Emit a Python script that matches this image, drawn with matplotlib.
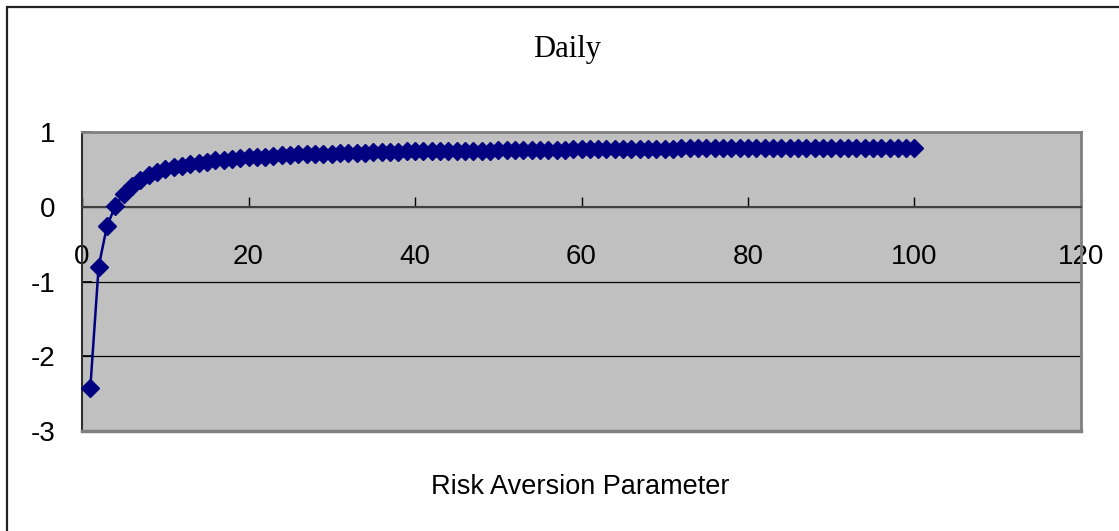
import matplotlib
matplotlib.use("Agg")
import matplotlib.pyplot as plt
from matplotlib.patches import Rectangle

# Risk aversion parameter (1..100) and daily values
risk_aversion = list(range(1, 101))
daily_values = [
    -2.42, -0.80, -0.26, 0.01, 0.17, 0.28, 0.36, 0.42, 0.46, 0.50,
    0.53, 0.55, 0.57, 0.59, 0.60, 0.62, 0.63, 0.64, 0.65, 0.66,
    0.67, 0.67, 0.68, 0.69, 0.69, 0.70, 0.70, 0.70, 0.71, 0.71,
    0.72, 0.72, 0.72, 0.72, 0.73, 0.73, 0.73, 0.73, 0.74, 0.74,
    0.74, 0.74, 0.74, 0.75, 0.75, 0.75, 0.75, 0.75, 0.75, 0.76,
    0.76, 0.76, 0.76, 0.76, 0.76, 0.76, 0.76, 0.76, 0.77, 0.77,
    0.77, 0.77, 0.77, 0.77, 0.77, 0.77, 0.77, 0.77, 0.77, 0.77,
    0.77, 0.78, 0.78, 0.78, 0.78, 0.78, 0.78, 0.78, 0.78, 0.78,
    0.78, 0.78, 0.78, 0.78, 0.78, 0.78, 0.78, 0.78, 0.78, 0.79,
    0.79, 0.79, 0.79, 0.79, 0.79, 0.79, 0.79, 0.79, 0.79, 0.79,
]
x_ticks = [0, 20, 40, 60, 80, 100, 120]
y_ticks = [-3, -2, -1, 0, 1]

W, H = 1119, 531

plt.rcParams["font.family"] = ["Liberation Sans", "DejaVu Sans"]
plt.rcParams["axes.unicode_minus"] = False

fig = plt.figure(figsize=(W / 100, H / 100), dpi=100)
fig.patch.set_facecolor("white")

# Plot area in pixel coords: left 82, right 1081, top 132, bottom 431
ax = fig.add_axes([82 / W, 1 - 431 / H, (1081 - 82) / W, (431 - 132) / H])
ax.set_facecolor("#C0C0C0")

ax.plot(risk_aversion, daily_values, color="#000080", linewidth=1.8,
        marker="D", markersize=9.5, zorder=4, clip_on=False)

ax.set_xlim(0, 120)
ax.set_ylim(-3, 1)
ax.set_xticks(x_ticks)
ax.set_yticks(y_ticks)
ax.yaxis.grid(True, color="black", linewidth=0.9)
ax.set_axisbelow(True)

# Excel-like axes: x axis crossing at y=0, gray frame
ax.spines["bottom"].set_position(("data", 0))
ax.spines["bottom"].set_color("#404040")
ax.spines["bottom"].set_linewidth(1.5)
ax.spines["left"].set_color("#303030")
ax.spines["left"].set_linewidth(1.5)
for side in ("top", "right"):
    ax.spines[side].set_color("#808080")
    ax.spines[side].set_linewidth(2)
ax.axhline(-3, color="#808080", linewidth=2.5, clip_on=False, zorder=3)

ax.tick_params(axis="x", direction="in", length=7, width=1, color="black",
               pad=27, labelsize=20)
ax.tick_params(axis="y", direction="in", length=7, width=1.2, color="black",
               pad=19, labelsize=20)

fig.text(567 / W, 1 - 50 / H, "Daily", ha="center", va="center",
         fontsize=22, family=["Liberation Serif", "DejaVu Serif"])
fig.text(580 / W, 1 - 487 / H, "Risk Aversion Parameter", ha="center",
         va="center", fontsize=19.5)

# outer chart border (only left and top edges visible)
fig.add_artist(Rectangle((7 / W, -0.2), 1.5, 1.2 - 7 / H, transform=fig.transFigure,
                         fill=False, edgecolor="#222222", linewidth=1.6))

fig.savefig("out.png", dpi=100)
plt.close(fig)
